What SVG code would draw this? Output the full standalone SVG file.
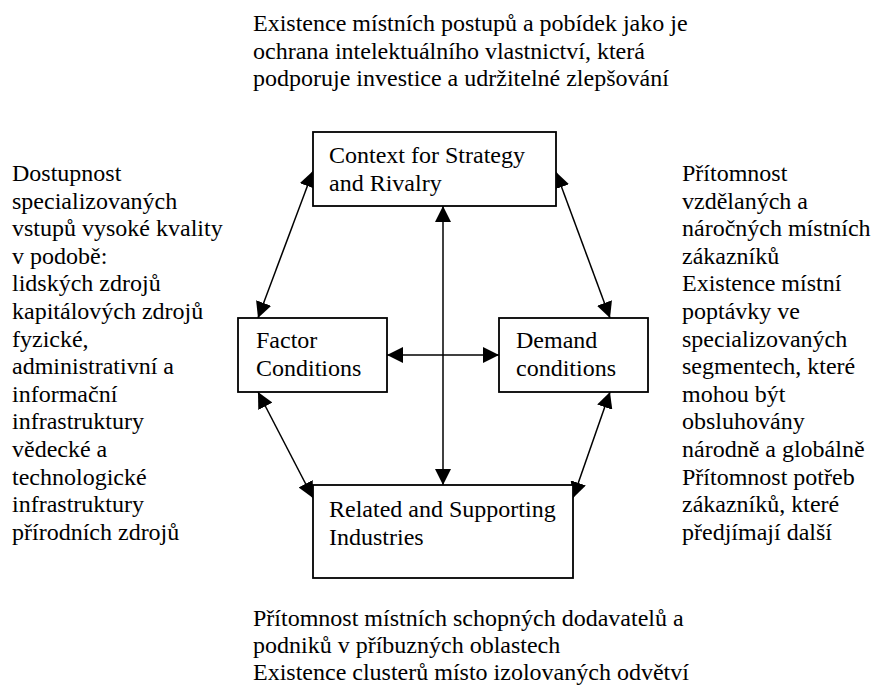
<svg xmlns="http://www.w3.org/2000/svg" width="873" height="686" viewBox="0 0 873 686">
<style>
.t { font-family: "Liberation Serif", "Times New Roman", Times, "DejaVu Serif", serif; font-size: 24px; fill: #000; }
.box { fill: #fff; stroke: #000; stroke-width: 1.8; }
.conn { stroke: #000; stroke-width: 1.5; fill: none; marker-start: url(#arr); marker-end: url(#arr); }
</style>
<defs>
<marker id="arr" markerUnits="userSpaceOnUse" markerWidth="17" markerHeight="16" refX="16" refY="8" orient="auto-start-reverse" viewBox="0 0 17 16">
<path d="M0,0 L16,8 L0,16 z" fill="#000"/>
</marker>
</defs>
<rect width="873" height="686" fill="#fff"/>
<g id="connectors">
<line class="conn" x1="313" y1="171" x2="258" y2="318"/>
<line class="conn" x1="556" y1="172" x2="610" y2="318"/>
<line class="conn" x1="258" y1="392" x2="313" y2="498"/>
<line class="conn" x1="610" y1="392" x2="573" y2="498"/>
<line class="conn" x1="443" y1="206" x2="443" y2="485"/>
<line class="conn" x1="387" y1="355" x2="499" y2="355"/>
</g>
<g font-family="'Liberation Serif', 'Times New Roman', Times, serif" font-size="24">
<g id="context">
<rect class="box" x="313" y="132" width="243" height="74"/>
<text class="t" x="329" y="163">Context for Strategy</text>
<text class="t" x="329" y="191">and Rivalry</text>
</g>
<g id="factor">
<rect class="box" x="238" y="318" width="149" height="74"/>
<text class="t" x="256" y="348">Factor</text>
<text class="t" x="256" y="376">Conditions</text>
</g>
<g id="demand">
<rect class="box" x="499" y="318" width="149" height="74"/>
<text class="t" x="516" y="348">Demand</text>
<text class="t" x="516" y="376">conditions</text>
</g>
<g id="related">
<rect class="box" x="313" y="485" width="260" height="93"/>
<text class="t" x="329" y="517">Related and Supporting</text>
<text class="t" x="329" y="545">Industries</text>
</g>
<g id="top-text">
<text class="t" x="253" y="31">Existence místních postupů a pobídek jako je</text>
<text class="t" x="253" y="58.6">ochrana intelektuálního vlastnictví, která</text>
<text class="t" x="253" y="86.2">podporuje investice a udržitelné zlepšování</text>
</g>
<g id="left-text">
<text class="t" x="12" y="181">Dostupnost</text>
<text class="t" x="12" y="208.6">specializovaných</text>
<text class="t" x="12" y="236.2">vstupů vysoké kvality</text>
<text class="t" x="12" y="263.8">v podobě:</text>
<text class="t" x="12" y="291.4">lidských zdrojů</text>
<text class="t" x="12" y="319">kapitálových zdrojů</text>
<text class="t" x="12" y="346.6">fyzické,</text>
<text class="t" x="12" y="374.2">administrativní a</text>
<text class="t" x="12" y="401.8">informační</text>
<text class="t" x="12" y="429.4">infrastruktury</text>
<text class="t" x="12" y="457">vědecké a</text>
<text class="t" x="12" y="484.6">technologické</text>
<text class="t" x="12" y="512.2">infrastruktury</text>
<text class="t" x="12" y="539.8">přírodních zdrojů</text>
</g>
<g id="right-text">
<text class="t" x="682" y="181">Přítomnost</text>
<text class="t" x="682" y="208.6">vzdělaných a</text>
<text class="t" x="682" y="236.2">náročných místních</text>
<text class="t" x="682" y="263.8">zákazníků</text>
<text class="t" x="682" y="291.4">Existence místní</text>
<text class="t" x="682" y="319">poptávky ve</text>
<text class="t" x="682" y="346.6">specializovaných</text>
<text class="t" x="682" y="374.2">segmentech, které</text>
<text class="t" x="682" y="401.8">mohou být</text>
<text class="t" x="682" y="429.4">obsluhovány</text>
<text class="t" x="682" y="457">národně a globálně</text>
<text class="t" x="682" y="484.6">Přítomnost potřeb</text>
<text class="t" x="682" y="512.2">zákazníků, které</text>
<text class="t" x="682" y="539.8">předjímají další</text>
</g>
<g id="bottom-text">
<text class="t" x="253" y="626">Přítomnost místních schopných dodavatelů a</text>
<text class="t" x="253" y="653">podniků v příbuzných oblastech</text>
<text class="t" x="253" y="680">Existence clusterů místo izolovaných odvětví</text>
</g>
</g>
</svg>
